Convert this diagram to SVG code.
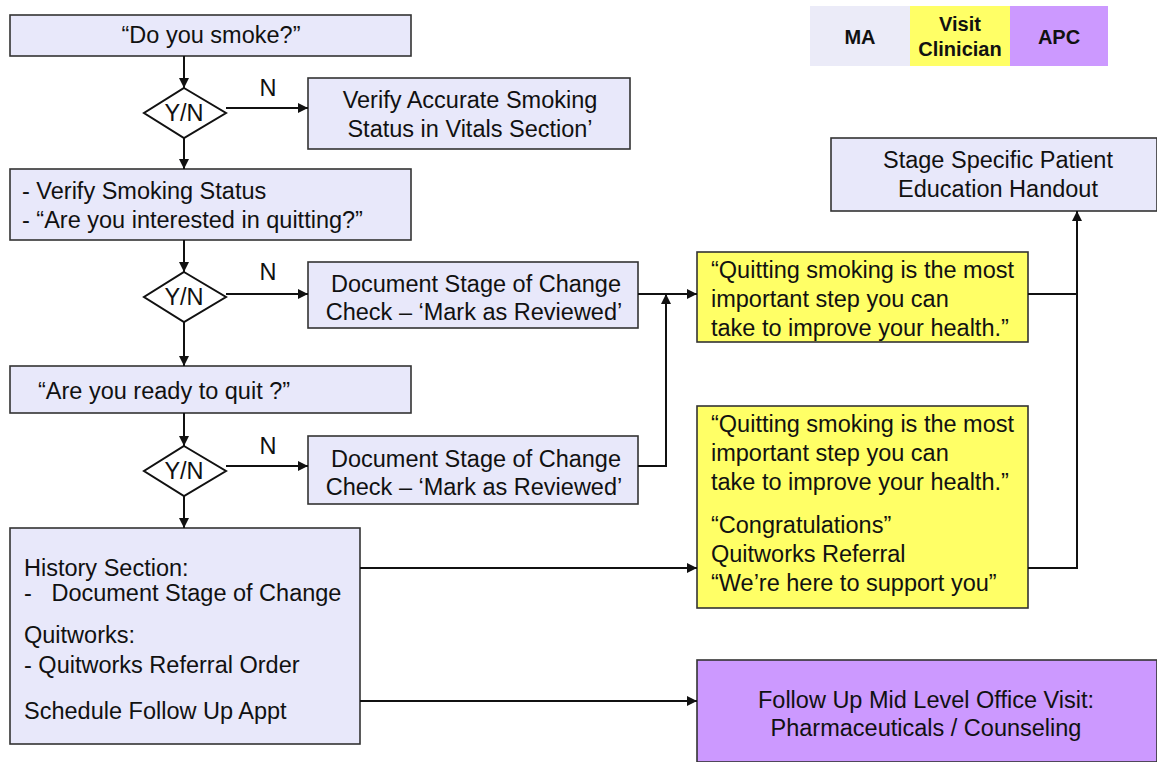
<svg xmlns="http://www.w3.org/2000/svg" width="1157" height="762" viewBox="0 0 1157 762">
<defs>
<marker id="ah" viewBox="0 0 10 10" refX="10" refY="5" markerWidth="10" markerHeight="10" markerUnits="userSpaceOnUse" orient="auto">
<path d="M0,0 L10,5 L0,10 z" fill="#111"/>
</marker>
</defs>
<style>
.box{fill:#E8E8FA;stroke:#333;stroke-width:1.6}
.yel{fill:#FFFF66;stroke:#333;stroke-width:1.6}
.pur{fill:#CC99FF;stroke:#333;stroke-width:1.6}
.dia{fill:#fff;stroke:#111;stroke-width:2}
.t{font-family:"Liberation Sans",Arial,sans-serif;font-size:23.5px;fill:#111}
.c{text-anchor:middle}
.lg{font-family:"Liberation Sans",Arial,sans-serif;font-size:20px;font-weight:bold;fill:#111;text-anchor:middle}
.con{fill:none;stroke:#111;stroke-width:2}
</style>
<rect width="1157" height="762" fill="#fff"/>

<g id="legend">
<rect x="810" y="6" width="100" height="60" fill="#EBEBF8"/>
<rect x="910" y="6" width="100" height="60" fill="#FFFF66"/>
<rect x="1010" y="6" width="98" height="60" fill="#CC99FF"/>
<text class="lg" x="860" y="44">MA</text>
<text class="lg" x="960" y="31">Visit</text>
<text class="lg" x="960" y="56">Clinician</text>
<text class="lg" x="1059" y="44">APC</text>
</g>

<g id="n_smoke">
<rect class="box" x="10" y="15" width="401" height="41"/>
<text class="t c" x="211" y="43">“Do you smoke?”</text>
</g>

<g id="d1">
<polygon class="dia" points="184,88 226,113 184,138 144,113"/>
<text class="t c" x="184" y="121">Y/N</text>
</g>

<g id="n_verify_acc">
<rect class="box" x="308" y="78" width="322" height="71"/>
<text class="t c" x="470" y="108">Verify Accurate Smoking</text>
<text class="t c" x="470" y="137">Status in Vitals Section’</text>
</g>

<g id="n_verify">
<rect class="box" x="10" y="169" width="401" height="71"/>
<text class="t" x="22" y="199">- Verify Smoking Status</text>
<text class="t" x="22" y="228">- “Are you interested in quitting?”</text>
</g>

<g id="d2">
<polygon class="dia" points="184,272 226,297 184,322 144,297"/>
<text class="t c" x="184" y="305">Y/N</text>
</g>

<g id="n_doc1">
<rect class="box" x="308" y="262" width="330" height="66"/>
<text class="t c" x="476" y="292">Document Stage of Change</text>
<text class="t c" x="474" y="320">Check – ‘Mark as Reviewed’</text>
</g>

<g id="n_ready">
<rect class="box" x="10" y="366" width="401" height="47"/>
<text class="t" x="38" y="399">“Are you ready to quit ?”</text>
</g>

<g id="d3">
<polygon class="dia" points="184,446 226,471 184,496 144,471"/>
<text class="t c" x="184" y="479">Y/N</text>
</g>

<g id="n_doc2">
<rect class="box" x="308" y="436" width="330" height="68"/>
<text class="t c" x="476" y="467">Document Stage of Change</text>
<text class="t c" x="474" y="495">Check – ‘Mark as Reviewed’</text>
</g>

<g id="n_history">
<rect class="box" x="10" y="528" width="350" height="216"/>
<text class="t" x="24" y="576">History Section:</text>
<text class="t" x="24" y="601" xml:space="preserve">-   Document Stage of Change</text>
<text class="t" x="24" y="643">Quitworks:</text>
<text class="t" x="24" y="673">- Quitworks Referral Order</text>
<text class="t" x="24" y="719">Schedule Follow Up Appt</text>
</g>

<g id="n_quote1">
<rect class="yel" x="697" y="252" width="331" height="90"/>
<text class="t" x="711" y="278">“Quitting smoking is the most</text>
<text class="t" x="711" y="307">important step you can</text>
<text class="t" x="711" y="336">take to improve your health.”</text>
</g>

<g id="n_quote2">
<rect class="yel" x="697" y="406" width="331" height="202"/>
<text class="t" x="711" y="432">“Quitting smoking is the most</text>
<text class="t" x="711" y="461">important step you can</text>
<text class="t" x="711" y="490">take to improve your health.”</text>
<text class="t" x="711" y="533">“Congratulations”</text>
<text class="t" x="711" y="562">Quitworks Referral</text>
<text class="t" x="711" y="591">“We’re here to support you”</text>
</g>

<g id="n_handout">
<rect class="box" x="831" y="138" width="326" height="73"/>
<text class="t c" x="998" y="168">Stage Specific Patient</text>
<text class="t c" x="998" y="197">Education Handout</text>
</g>

<g id="n_followup">
<rect class="pur" x="697" y="660" width="460" height="102"/>
<text class="t c" x="926" y="708">Follow Up Mid Level Office Visit:</text>
<text class="t c" x="926" y="736">Pharmaceuticals / Counseling</text>
</g>

<g id="connectors">
<path class="con" d="M184,56 V88" marker-end="url(#ah)"/>
<path class="con" d="M226,108 H308" marker-end="url(#ah)"/>
<text class="t c" x="268" y="96">N</text>
<path class="con" d="M184,138 V169" marker-end="url(#ah)"/>
<path class="con" d="M184,240 V272" marker-end="url(#ah)"/>
<path class="con" d="M226,294 H308" marker-end="url(#ah)"/>
<text class="t c" x="268" y="280">N</text>
<path class="con" d="M184,322 V366" marker-end="url(#ah)"/>
<path class="con" d="M184,413 V446" marker-end="url(#ah)"/>
<path class="con" d="M226,466 H308" marker-end="url(#ah)"/>
<text class="t c" x="268" y="454">N</text>
<path class="con" d="M184,496 V528" marker-end="url(#ah)"/>
<path class="con" d="M638,294 H697" marker-end="url(#ah)"/>
<path class="con" d="M638,466 H666 V294" marker-end="url(#ah)"/>
<path class="con" d="M360,568 H697" marker-end="url(#ah)"/>
<path class="con" d="M360,701 H697" marker-end="url(#ah)"/>
<path class="con" d="M1028,294 H1077"/>
<path class="con" d="M1028,568 H1077 V211" marker-end="url(#ah)"/>
</g>
</svg>
